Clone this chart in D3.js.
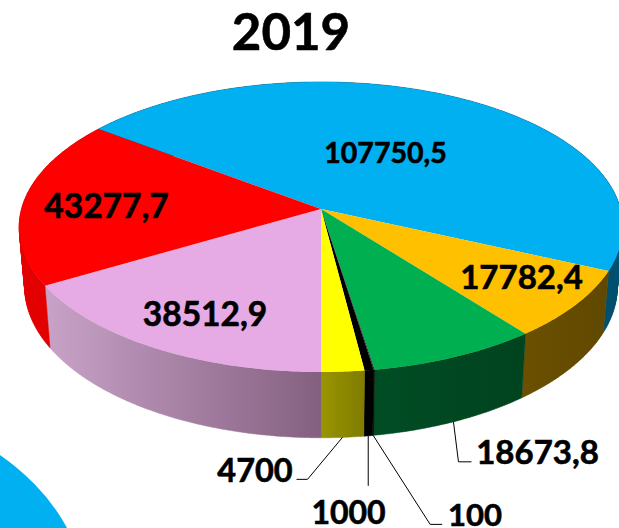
<!DOCTYPE html>
<html>
<head>
<meta charset="utf-8">
<script src="https://cdn.jsdelivr.net/npm/d3@7"></script>
<style>
  html, body { margin: 0; padding: 0; background: #fff; }
  svg { display: block; }
  text { font-family: Lato, "Open Sans", sans-serif; font-weight: 700; fill: #000; stroke: #000; stroke-width: 0.6px; }
</style>
</head>
<body>
<div id="chart"></div>
<script>
const title = "2019";
const values = [107750.5, 17782.4, 18673.8, 100, 1000, 4700, 38512.9, 43277.7];
const labels = ["107750,5", "17782,4", "18673,8", "100", "1000", "4700", "38512,9", "43277,7"];
const topColors = ["#00b0f0", "#ffc000", "#00b050", "#1a1a1a", "#000000", "#ffff00", "#e6aae4", "#ff0000"];
const wallFrom = ["#004f6e", "#6b5000", "#004d24", "#0a1a0a", "#000000", "#999500", "#c9a2c8", "#e60000"];
const wallTo = ["#004f6e", "#614800", "#00431f", "#0a1a0a", "#000000", "#807c00", "#846080", "#d80000"];

// x, y, font size of every label
const labelLayout = [
  [385.5, 153, 28.5], [521.5, 277, 33], [537.5, 452, 33], [475, 515, 31],
  [348.5, 513, 32], [255, 471, 32.5], [205, 314, 33.5], [106.5, 206, 33.5]
];
// leader lines, as offsets from the foot of the slice wall
const leaders = {
  2: [[5, 40], [18, 40]],
  3: [[57, 89], [69, 89]],
  4: [[0, 50]],
  5: [[-35, 42], [-46, 42]]
};

const width = 619, height = 528;
const top3d = {x0: 321, y0: 209, rx: 299.5, ry: 142.8, p: 0.124};
const bottom3d = {x0: 321, y0: 268, rx: 294, ry: 148.7, p: 0.124};

// circle on a tilted plane, a = 0 is the far side, clockwise
function project(a, f, plane) {
  const w = 1 + plane.p * Math.cos(a);
  return [
    plane.x0 + plane.rx * f * Math.sin(a) / w,
    plane.y0 - plane.ry * f * Math.cos(a) / w
  ];
}

function arcPoints(d, plane) {
  const n = Math.max(2, Math.ceil((d.endAngle - d.startAngle) / 0.01));
  return d3.range(n + 1).map(i =>
    project(d.startAngle + (d.endAngle - d.startAngle) * i / n, 1, plane)
  );
}

const svg = d3.select("#chart").append("svg")
  .attr("width", width)
  .attr("height", height);

const defs = svg.append("defs");
const line = d3.line();

// start so that the pink slice begins straight down
const pieGen = d3.pie().sort(null).startAngle(-0.925).endAngle(-0.925 + 2 * Math.PI);
const slices = pieGen(values);

// blue corner of the neighbouring pie
svg.append("ellipse")
  .attr("cx", -215).attr("cy", 598).attr("rx", 300).attr("ry", 205)
  .attr("fill", topColors[0]);

slices.forEach((d, i) => {
  const tops = arcPoints(d, top3d);
  const bottoms = arcPoints(d, bottom3d);
  const xs = tops.concat(bottoms).map(p => p[0]);
  const grad = defs.append("linearGradient")
    .attr("id", "wall" + i)
    .attr("gradientUnits", "userSpaceOnUse")
    .attr("x1", d3.min(xs)).attr("x2", d3.max(xs))
    .attr("y1", 0).attr("y2", 0);
  grad.append("stop").attr("offset", 0).attr("stop-color", wallFrom[i]);
  grad.append("stop").attr("offset", 1).attr("stop-color", wallTo[i]);
  // one small quad per step, so the silhouette stays closed at the sides
  const quads = d3.range(tops.length - 1).map(k =>
    line([tops[k], tops[k + 1], bottoms[k + 1], bottoms[k]]) + "Z"
  );
  svg.append("path")
    .attr("d", quads.join(""))
    .attr("fill", `url(#wall${i})`)
    .attr("stroke", `url(#wall${i})`)
    .attr("stroke-width", 0.5);
});

slices.forEach((d, i) => {
  svg.append("path")
    .attr("d", line([[top3d.x0, top3d.y0], ...arcPoints(d, top3d)]) + "Z")
    .attr("fill", topColors[i]);
});

Object.entries(leaders).forEach(([i, bends]) => {
  const d = slices[+i];
  const mid = (d.startAngle + d.endAngle) / 2;
  const foot = project(mid, 1, bottom3d);
  svg.append("path")
    .attr("d", line([foot, ...bends.map(b => [foot[0] + b[0], foot[1] + b[1]])]))
    .attr("fill", "none")
    .attr("stroke", "#000")
    .attr("stroke-width", 1);
});

svg.selectAll("text.label")
  .data(labels)
  .join("text")
    .attr("class", "label")
    .attr("x", (d, i) => labelLayout[i][0])
    .attr("y", (d, i) => labelLayout[i][1])
    .attr("dy", "0.35em")
    .attr("text-anchor", "middle")
    .attr("font-size", (d, i) => labelLayout[i][2])
    .text(d => d);

svg.append("text")
  .attr("x", 291)
  .attr("y", 50)
  .attr("text-anchor", "middle")
  .attr("font-size", 51)
  .text(title);
</script>
</body>
</html>
